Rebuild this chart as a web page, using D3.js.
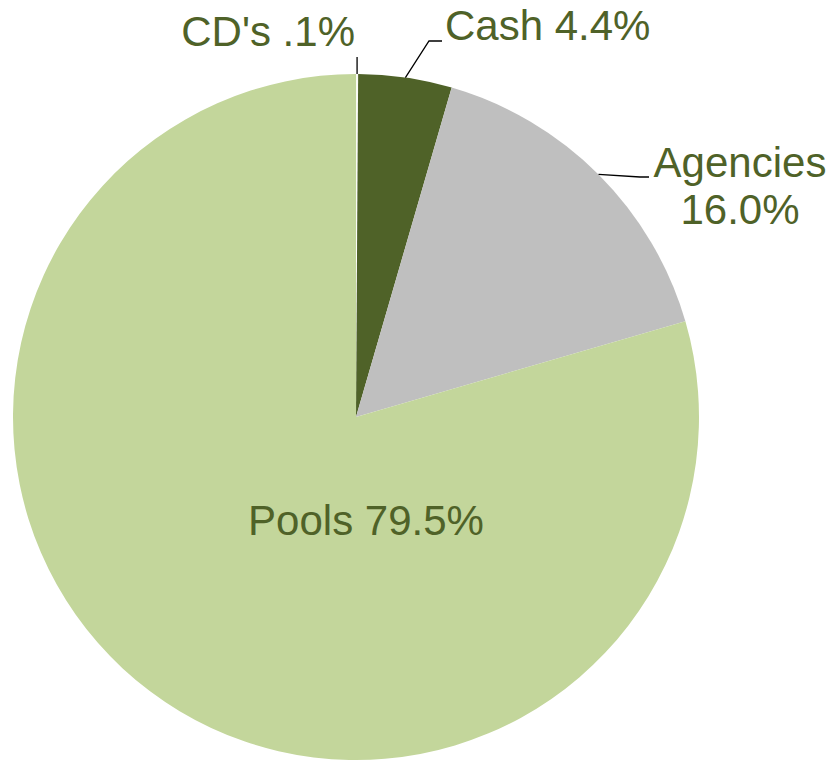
<!DOCTYPE html>
<html>
<head>
<meta charset="utf-8">
<script src="https://cdn.jsdelivr.net/npm/d3@7"></script>
<style>
  html, body { margin: 0; padding: 0; background: #ffffff; }
  svg { display: block; }
</style>
</head>
<body>
<svg id="chart" width="832" height="762"></svg>
<script>
// ---- data ----
const categories = ["CD's", "Cash", "Agencies", "Pools"];
const values = [0.1, 4.4, 16.0, 79.5];
const valueLabels = [".1%", "4.4%", "16.0%", "79.5%"];
const colors = ["#F4F7EC", "#4F6228", "#BFBFBF", "#C3D69B"];

// ---- layout ----
const W = 832, H = 762;
const cx = 356, cy = 417, R = 343;
const textColor = "#4F6228";
const fontFamily = "'Liberation Sans', Arial, Helvetica, sans-serif";
const fontSize = 42;

const svg = d3.select("#chart");
const g = svg.append("g").attr("transform", `translate(${cx},${cy})`);

const pie = d3.pie().sort(null).value(d => d.value).startAngle(0).endAngle(2 * Math.PI);
const data = categories.map((c, i) => ({ name: c, value: values[i], label: valueLabels[i], color: colors[i] }));
const arcs = pie(data);
const arc = d3.arc().innerRadius(0).outerRadius(R);

g.selectAll("path.slice")
  .data(arcs)
  .join("path")
  .attr("class", "slice")
  .attr("d", arc)
  .attr("fill", d => d.data.color)
  .attr("stroke", d => d.data.name === "CD's" ? "#ffffff" : "none")
  .attr("stroke-width", 1);

// point on the pie rim at the middle angle of a slice
function rimPoint(a, r) {
  const m = (a.startAngle + a.endAngle) / 2;
  return [r * Math.sin(m), -r * Math.cos(m)];
}

// label layout (absolute positions relative to the pie centre)
const labelLayout = {
  "CD's":    { lines: [d => `${d.name} ${d.label}`], x: 355 - cx, y: [46 - cy], anchor: "end", leader: p => [p, [p[0], 57 - cy]] },
  "Cash":    { lines: [d => `${d.name} ${d.label}`], x: 445 - cx, y: [40 - cy], anchor: "start", leader: p => [p, [429 - cx, 41 - cy], [442 - cx, 41 - cy]] },
  "Agencies":{ lines: [d => d.name, d => d.label], x: 740 - cx, y: [177 - cy, 224 - cy], anchor: "middle", leader: p => [p, [640 - cx, 177 - cy], [649 - cx, 177 - cy]] },
  "Pools":   { lines: [d => `${d.name} ${d.label}`], x: 366 - cx, y: [535 - cy], anchor: "middle", leader: null }
};

const line = d3.line();
arcs.forEach(a => {
  const L = labelLayout[a.data.name];
  if (L.leader) {
    const p = rimPoint(a, R);
    g.append("path")
      .attr("d", line(L.leader(p)))
      .attr("fill", "none")
      .attr("stroke", "#000000")
      .attr("stroke-width", 1.3);
  }
  L.lines.forEach((fn, i) => {
    g.append("text")
      .attr("x", L.x)
      .attr("y", L.y[i])
      .attr("text-anchor", L.anchor)
      .attr("font-family", fontFamily)
      .attr("font-size", fontSize)
      .attr("fill", textColor)
      .text(fn(a.data));
  });
});
</script>
</body>
</html>
